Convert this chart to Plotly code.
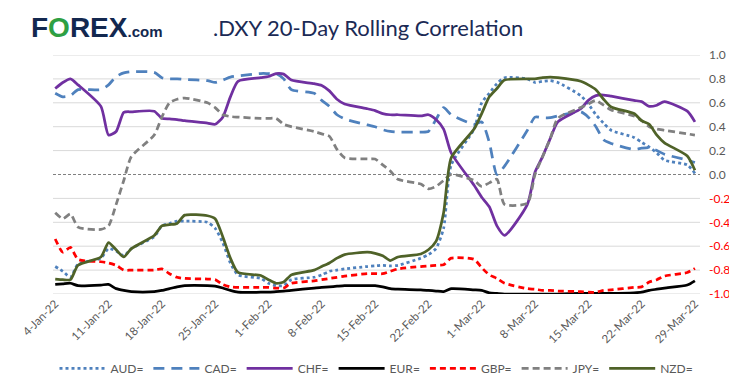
import pandas as pd
import plotly.graph_objects as go

dates = pd.bdate_range("2022-01-04", "2022-03-29")

AUD = [-0.77, -0.81, -0.86, -0.75, -0.70, -0.62, -0.64, -0.68, -0.62, -0.52,
       -0.43, -0.41, -0.39, -0.39, -0.40, -0.45, -0.57, -0.74, -0.84, -0.87,
       -0.91, -0.93, -0.93, -0.88, -0.86, -0.84, -0.81, -0.80, -0.79, -0.77,
       -0.765, -0.76, -0.765, -0.76, -0.70, -0.67, -0.62, -0.45, 0.08, 0.38,
       0.60, 0.68, 0.76, 0.81, 0.80, 0.77, 0.78, 0.785, 0.77, 0.66,
       0.59, 0.50, 0.43, 0.37, 0.31, 0.27, 0.23, 0.18, 0.12, 0.08, 0.01]
CAD = [0.68, 0.65, 0.66, 0.71, 0.71, 0.75, 0.82, 0.85, 0.86, 0.855,
       0.81, 0.80, 0.80, 0.795, 0.785, 0.77, 0.79, 0.815, 0.825, 0.845,
       0.845, 0.845, 0.80, 0.71, 0.68, 0.62, 0.57, 0.50, 0.465, 0.415,
       0.40, 0.375, 0.36, 0.355, 0.355, 0.36, 0.46, 0.56, 0.50, 0.42,
       0.44, 0.27, 0.0, 0.07, 0.37, 0.48, 0.475, 0.475, 0.49, 0.525,
       0.48, 0.40, 0.29, 0.26, 0.21, 0.22, 0.225, 0.20, 0.17, 0.12, 0.10]
CHF = [0.72, 0.77, 0.80, 0.75, 0.57, 0.33, 0.36, 0.52, 0.525, 0.53,
       0.47, 0.465, 0.46, 0.45, 0.43, 0.42, 0.48, 0.65, 0.78, 0.81,
       0.82, 0.845, 0.84, 0.79, 0.76, 0.745, 0.70, 0.63, 0.59, 0.55,
       0.535, 0.51, 0.50, 0.50, 0.49, 0.50, 0.46, 0.38, 0.18, -0.09,
       -0.19, -0.27, -0.43, -0.51, -0.25, 0.02, 0.15, 0.30, 0.44, 0.55,
       0.62, 0.66, 0.665, 0.655, 0.62, 0.61, 0.57, 0.58, 0.61, 0.53, 0.44]
EUR = [-0.92, -0.915, -0.91, -0.93, -0.925, -0.92, -0.955, -0.97, -0.98, -0.98,
       -0.97, -0.955, -0.94, -0.93, -0.93, -0.935, -0.95, -0.97, -0.985, -0.985,
       -0.985, -0.98, -0.975, -0.97, -0.95, -0.945, -0.94, -0.935, -0.93, -0.93,
       -0.93, -0.94, -0.955, -0.96, -0.965, -0.97, -0.975, -0.98, -0.955, -0.965,
       -0.97, -0.99, -0.995, -1.0, -1.0, -1.0, -1.0, -1.0, -1.0, -0.995,
       -0.995, -0.995, -0.995, -0.995, -0.99, -0.985, -0.97, -0.96, -0.95, -0.925, -0.89]
GBP = [-0.54, -0.65, -0.61, -0.71, -0.73, -0.74, -0.76, -0.80, -0.80, -0.80,
       -0.79, -0.83, -0.86, -0.87, -0.875, -0.88, -0.92, -0.94, -0.945, -0.945,
       -0.945, -0.95, -0.95, -0.91, -0.89, -0.88, -0.87, -0.86, -0.85, -0.83,
       -0.83, -0.83, -0.81, -0.79, -0.77, -0.765, -0.76, -0.755, -0.70, -0.71,
       -0.78, -0.84, -0.87, -0.91, -0.955, -0.96, -0.97, -0.97, -0.975, -0.98,
       -0.985, -0.985, -0.97, -0.965, -0.945, -0.94, -0.90, -0.88, -0.85, -0.82, -0.785]
JPY = [-0.32, -0.37, -0.33, -0.44, -0.46, -0.43, -0.25, -0.05, 0.15, 0.33,
       0.48, 0.60, 0.63, 0.64, 0.60, 0.56, 0.50, 0.485, 0.48, 0.47,
       0.47, 0.47, 0.42, 0.40, 0.36, 0.34, 0.32, 0.21, 0.14, 0.13,
       0.13, 0.08, 0.03, -0.04, -0.08, -0.12, -0.10, -0.05, 0.0, -0.05,
       -0.10, -0.07, -0.04, -0.25, -0.24, 0.0, 0.15, 0.30, 0.47, 0.56,
       0.59, 0.62, 0.58, 0.54, 0.49, 0.45, 0.40, 0.38, 0.37, 0.34, 0.33]
NZD = [-0.875, -0.88, -0.88, -0.76, -0.69, -0.57, -0.63, -0.69, -0.62, -0.51,
       -0.43, -0.42, -0.41, -0.34, -0.345, -0.37, -0.52, -0.70, -0.82, -0.845,
       -0.88, -0.91, -0.90, -0.84, -0.80, -0.77, -0.74, -0.70, -0.67, -0.65,
       -0.66, -0.68, -0.72, -0.69, -0.665, -0.63, -0.56, -0.32, 0.14, 0.38,
       0.51, 0.65, 0.72, 0.79, 0.80, 0.80, 0.81, 0.815, 0.81, 0.78,
       0.75, 0.71, 0.63, 0.565, 0.51, 0.45, 0.42, 0.33, 0.265, 0.155, 0.035]

x_tick_dates = ["2022-01-04", "2022-01-11", "2022-01-18", "2022-01-25", "2022-02-01",
                "2022-02-08", "2022-02-15", "2022-02-22", "2022-03-01", "2022-03-08",
                "2022-03-15", "2022-03-22", "2022-03-29"]
x_tick_labels = ["4-Jan-22", "11-Jan-22", "18-Jan-22", "25-Jan-22", "1-Feb-22",
                 "8-Feb-22", "15-Feb-22", "22-Feb-22", "1-Mar-22", "8-Mar-22",
                 "15-Mar-22", "22-Mar-22", "29-Mar-22"]
y_tick_vals = [1.0, 0.8, 0.6, 0.4, 0.2, 0.0, -0.2, -0.4, -0.6, -0.8, -1.0]

series = [
    ("AUD=", AUD, "#4f81bd", "dot", 2.75),
    ("CAD=", CAD, "#4f81bd", "11px,7px", 2.75),
    ("CHF=", CHF, "#7030a0", "solid", 2.75),
    ("EUR=", EUR, "#000000", "solid", 2.75),
    ("GBP=", GBP, "#ff0000", "6px,4px", 2.75),
    ("JPY=", JPY, "#808080", "7px,4px", 2.75),
    ("NZD=", NZD, "#4f6228", "solid", 2.75),
]

FONT = "Lato, Carlito, 'Liberation Sans', sans-serif"
fig = go.Figure()
for name, vals, color, dash, w in series:
    fig.add_trace(go.Scatter(
        x=dates, y=vals, name=name, mode="lines",
        line=dict(color=color, dash=dash, width=w, shape="spline", smoothing=0.6),
    ))

L, R, T, B = 45, 45, 47, 96
W, H = 737, 387
pw, ph = W - L - R, H - T - B

def px_x(px):
    return (px - L) / pw

def px_y(py):
    return (H - B - py) / ph

shapes = []
for v in y_tick_vals:
    if v != 0:
        shapes.append(dict(type="line", xref="paper", yref="y", x0=0, x1=1, y0=v, y1=v,
                           line=dict(color="#d9d9d9", width=1), layer="below"))
shapes.append(dict(type="line", xref="paper", yref="y", x0=0, x1=1, y0=0, y1=0,
                   line=dict(color="#808080", width=1, dash="3px,2px"), layer="below"))

y_text = []
for v in y_tick_vals:
    s = f"{v:.1f}"
    if v < 0:
        y_text.append(f"<span style='color:#ff0000'>{s}</span>")
    else:
        y_text.append(s)

fig.update_layout(
    width=W, height=H,
    margin=dict(l=L, r=R, t=T, b=B),
    plot_bgcolor="white", paper_bgcolor="white",
    font=dict(family=FONT, size=11, color="#595959"),
    shapes=shapes,
    showlegend=True,
    legend=dict(orientation="h", x=0.5, xanchor="center", y=px_y(367), yanchor="middle",
                font=dict(size=12, color="#595959"), itemwidth=46,
                traceorder="normal", tracegroupgap=0),
    xaxis=dict(
        type="date",
        range=[pd.Timestamp("2022-01-04") - pd.Timedelta(hours=7),
               pd.Timestamp("2022-03-29") + pd.Timedelta(hours=16)],
        tickvals=x_tick_dates, ticktext=x_tick_labels, tickangle=-45,
        showgrid=False, zeroline=False, showline=False, ticks="",
        tickfont=dict(size=11.5, color="#595959"),
    ),
    yaxis=dict(
        side="right", range=[-1.0, 1.0],
        tickvals=y_tick_vals, ticktext=y_text,
        showgrid=False, zeroline=False, showline=False, ticks="",
        ticklabelstandoff=8,
        tickfont=dict(size=12, color="#595959"),
    ),
    annotations=[
        dict(xref="paper", yref="paper", x=px_x(21), y=px_y(19), xanchor="left", yanchor="middle",
             showarrow=False,
             text="<b><span style='color:#13284f'>F</span><span style='color:#2ea043'>O</span>"
                  "<span style='color:#13284f'>REX</span></b>"
                  "<span style='color:#13284f;font-size:15px'><b>.com</b></span>",
             font=dict(family="'Liberation Sans', Arial, sans-serif", size=28, color="#13284f")),
        dict(xref="paper", yref="paper", x=px_x(203), y=px_y(19), xanchor="left", yanchor="middle",
             showarrow=False, text=".DXY 20-Day Rolling Correlation",
             font=dict(family=FONT, size=22, color="#1b2a55")),
    ],
)

fig.write_html("out.html")
